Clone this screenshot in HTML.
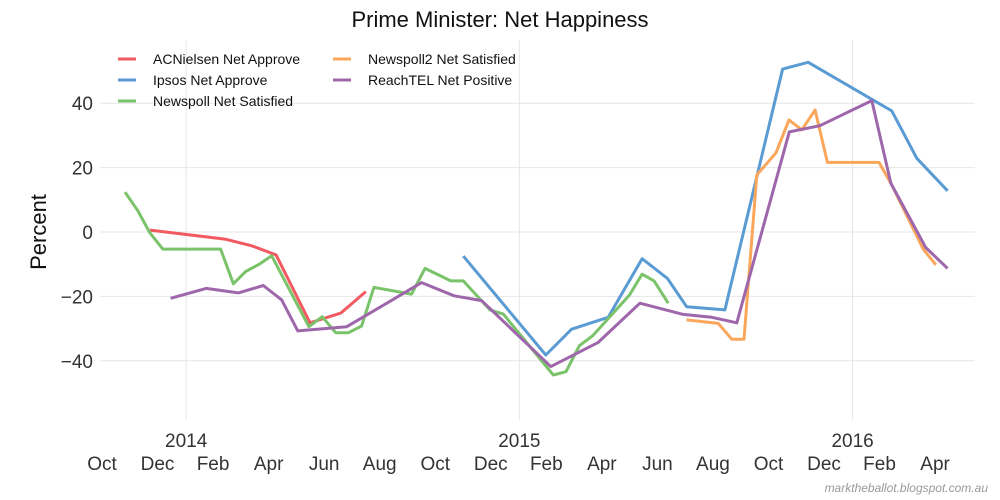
<!DOCTYPE html>
<html><head><meta charset="utf-8"><style>
html,body{margin:0;padding:0;background:#fff;}
svg{display:block;font-family:"Liberation Sans",Arial,sans-serif;}
</style></head><body>
<svg id="chart" width="1000" height="500" viewBox="0 0 1000 500">
<text x="500" y="27" text-anchor="middle" font-size="22" fill="#111">Prime Minister: Net Happiness</text>
<text transform="translate(46,232) rotate(-90)" text-anchor="middle" font-size="22" fill="#111">Percent</text>
<g id="grid"></g>
<g id="yticks"></g>
<g id="xticks"></g>
<g id="series"></g>
<g id="legend"></g>
<text x="988" y="492" text-anchor="end" font-size="12" font-style="italic" fill="#999">marktheballot.blogspot.com.au</text>
</svg>
<script>
// months since 1 Oct 2013
const yTickValues = [-40, -20, 0, 20, 40];
const yTickLabels = ["\u221240", "\u221220", "0", "20", "40"];
const xMonthPos = [0,2,4,6,8,10,12,14,16,18,20,22,24,26,28,30];
const xMonthLabels = ["Oct","Dec","Feb","Apr","Jun","Aug","Oct","Dec","Feb","Apr","Jun","Aug","Oct","Dec","Feb","Apr"];
const yearPos = [3.03, 15.03, 27.03];
const yearLabels = ["2014","2015","2016"];

const seriesNames = ["ACNielsen Net Approve","Ipsos Net Approve","Newspoll Net Satisfied","Newspoll2 Net Satisfied","ReachTEL Net Positive"];
const seriesColors = ["#f15a60","#5a9bd4","#7ac36a","#faa75b","#9e67ab"];

const acnT = [1.73,4.43,5.39,6.27,7.49,8.6,9.5];
const acnV = [0.6,-2.2,-4.3,-7.1,-28.2,-25.2,-18.5];

const ipsT = [13.01,15.98,16.91,18.23,19.45,20.36,21.05,22.43,24.51,25.43,28.44,29.34,30.45];
const ipsV = [-7.5,-38.2,-30.2,-26.5,-8.3,-14.4,-23.2,-24.2,50.6,52.7,37.6,22.9,12.8];

const nspT = [0.83,1.29,1.73,2.19,4.27,4.73,5.17,5.66,6.11,7.45,7.93,8.42,8.87,9.35,9.79,11.15,11.63,12.56,13.01,13.97,14.45,16.25,16.71,17.19,17.67,18.99,19.45,19.88,20.39];
const nspV = [12.4,6.6,-0.3,-5.3,-5.3,-16.1,-12.3,-10,-7.4,-29.4,-26.3,-31.3,-31.3,-29.2,-17.2,-19.3,-11.3,-15.2,-15.2,-24.2,-25.5,-44.4,-43.4,-35.3,-32.2,-19.6,-13.1,-15.2,-22.1];

const ns2T = [21.05,22.19,22.68,23.12,23.58,24.27,24.74,25.2,25.68,26.12,27.98,28.44,29.57,30.03];
const ns2V = [-27.3,-28.4,-33.3,-33.3,17.7,24.6,34.8,31.7,37.9,21.6,21.6,14.6,-5.3,-10.2];

const rtT = [2.47,3.75,4.91,5.81,6.47,7.05,8.81,9.53,11.51,12.68,13.67,16.16,17.87,19.37,20.93,21.96,22.86,24.75,25.85,27.72,28.41,29.66,30.45];
const rtV = [-20.6,-17.5,-18.9,-16.6,-21.1,-30.7,-29.4,-25.8,-15.7,-19.8,-21.3,-41.8,-34.3,-22.1,-25.6,-26.5,-28.2,31.1,33.0,40.8,15.1,-4.8,-11.3];

const X0 = 102, XS = 27.77, Y0 = 232, YS = 3.22;
const PL = 100, PR = 975, PT = 40, PB = 420;
function xs(m){ return X0 + m*XS; }
function ys(v){ return Y0 - v*YS; }
const NS = "http://www.w3.org/2000/svg";
function mk(tag, attrs, parent){ const e=document.createElementNS(NS,tag); for(const k in attrs) e.setAttribute(k, attrs[k]); parent.appendChild(e); return e; }

const grid = document.getElementById('grid');
yTickValues.forEach(v=>{
  const l = mk('line',{x1:PL,x2:PR,y1:ys(v),y2:ys(v),stroke:'#e6e6e6','stroke-width':1},grid);
  
  
});
yearPos.forEach(m=>{
  const l = mk('line',{x1:xs(m),x2:xs(m),y1:PT,y2:PB,stroke:'#e6e6e6','stroke-width':1},grid);
  
  
});
const yt = document.getElementById('yticks');
yTickValues.forEach((v,i)=>{
  const t = mk('text',{x:93,y:ys(v)+7,'text-anchor':'end','font-size':19,fill:'#333'},yt);
  t.textContent = yTickLabels[i];
  
  
});
const xt = document.getElementById('xticks');
yearPos.forEach((m,i)=>{
  const t = mk('text',{x:xs(m),y:447,'text-anchor':'middle','font-size':19,fill:'#333'},xt);
  t.textContent = yearLabels[i];
  
  
});
xMonthPos.forEach((m,i)=>{
  const t = mk('text',{x:xs(m),y:470,'text-anchor':'middle','font-size':19,fill:'#333'},xt);
  t.textContent = xMonthLabels[i];
  
  
});

const sg = document.getElementById('series');
const allT = [acnT, ipsT, nspT, ns2T, rtT];
const allV = [acnV, ipsV, nspV, ns2V, rtV];
const keys = ['acnielsen','ipsos','newspoll','newspoll2','reachtel'];
allT.forEach((T,i)=>{
  const pts = T.map((m,j)=>xs(m).toFixed(1)+','+ys(allV[i][j]).toFixed(1)).join(' ');
  const p = mk('polyline',{points:pts,fill:'none',stroke:seriesColors[i],'stroke-width':3,'stroke-linejoin':'round'},sg);
  
  
});

const lg = document.getElementById('legend');
const legPos = [[118,59],[118,80],[118,101],[333,59],[333,80]];
seriesNames.forEach((n,i)=>{
  const [lx,ly] = legPos[i];
  const g = mk('g',{},lg);
  
  
  mk('line',{x1:lx,x2:lx+18,y1:ly,y2:ly,stroke:seriesColors[i],'stroke-width':3},g);
  const t = mk('text',{x:lx+35,y:ly+5,'font-size':14,fill:'#111'},g);
  t.textContent = n;
});
</script>
</body></html>
